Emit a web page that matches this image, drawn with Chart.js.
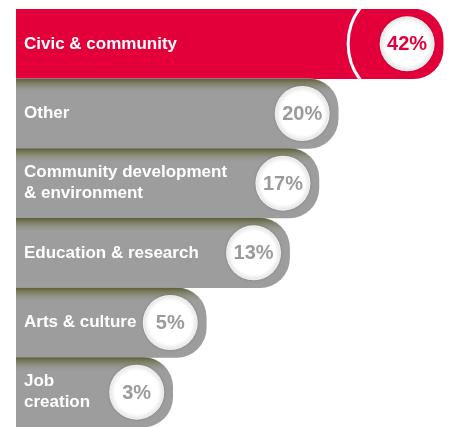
<!DOCTYPE html>
<html>
<head>
<meta charset="utf-8">
<script src="https://cdn.jsdelivr.net/npm/chart.js@4/dist/chart.umd.min.js"></script>
<style>
  body { margin: 0; background: #fff; }
  #wrap { width: 450px; height: 427px; }
</style>
</head>
<body>
<div id="wrap"><canvas id="myChart" width="450" height="427"></canvas></div>
<script>
const categories = [
  'Civic & community',
  'Other',
  ['Community development', '& environment'],
  'Education & research',
  'Arts & culture',
  ['Job', 'creation']
];
const shares = [42, 20, 17, 13, 5, 3];
const barColors = ['#e3003a', '#9d9d9d', '#9d9d9d', '#9d9d9d', '#9d9d9d', '#9d9d9d'];
const valueColors = ['#e3003a', '#9a9a9a', '#9a9a9a', '#9a9a9a', '#9a9a9a', '#9a9a9a'];

// the original bars are not linear in the share, a power scale fits them well
const EXP = 0.38;
class PowerScale extends Chart.LinearScale {
  getPixelForValue(value) {
    const t = Math.pow(Math.max(value, 0) / this.max, EXP);
    return this.getPixelForDecimal(t);
  }
  getValueForPixel(pixel) {
    return this.max * Math.pow(Math.max(this.getDecimalForPixel(pixel), 0), 1 / EXP);
  }
}
PowerScale.id = 'power';
PowerScale.defaults = Chart.LinearScale.defaults;
Chart.register(PowerScale);

const FONT = '"Liberation Sans", Arial, Helvetica, sans-serif';

const badges = {
  id: 'badges',
  afterDatasetsDraw(chart) {
    const ctx = chart.ctx;
    const meta = chart.getDatasetMeta(0);
    meta.data.forEach((bar, i) => {
      const h = bar.height;
      const top = bar.y - h / 2;
      const r = 30;
      const cx = bar.x - 36;
      const cy = bar.y;
      const cr = 27.5;

      ctx.save();
      ctx.beginPath();
      ctx.roundRect(bar.base, top, bar.x - bar.base, h, [0, r, r, 0]);
      ctx.clip();
      if (i > 0) {
        // shadow thrown by the bar above
        const g = ctx.createLinearGradient(0, top, 0, top + 15);
        g.addColorStop(0, 'rgba(82,86,40,0.9)');
        g.addColorStop(0.4, 'rgba(110,112,70,0.5)');
        g.addColorStop(1, 'rgba(157,157,157,0)');
        ctx.fillStyle = g;
        ctx.fillRect(bar.base, top, bar.x - bar.base, 15);
      } else {
        ctx.beginPath();
        ctx.arc(cx, cy, 59, 0, Math.PI * 2);
        ctx.strokeStyle = '#ffffff';
        ctx.lineWidth = 3;
        ctx.stroke();
      }
      ctx.restore();

      // white badge
      ctx.save();
      ctx.shadowColor = 'rgba(0,0,0,0.2)';
      ctx.shadowBlur = 3;
      const rg = ctx.createRadialGradient(cx, cy, 0, cx, cy, cr);
      rg.addColorStop(0, '#ffffff');
      rg.addColorStop(0.78, '#ffffff');
      rg.addColorStop(0.95, '#e9e9e9');
      rg.addColorStop(1, '#f6f6f6');
      ctx.fillStyle = rg;
      ctx.beginPath();
      ctx.arc(cx, cy, cr, 0, Math.PI * 2);
      ctx.fill();
      ctx.restore();

      ctx.save();
      ctx.fillStyle = valueColors[i];
      ctx.font = 'bold 20px ' + FONT;
      ctx.textAlign = 'center';
      ctx.textBaseline = 'middle';
      ctx.fillText(shares[i] + '%', cx, cy + 1);

      // category label
      ctx.fillStyle = '#ffffff';
      ctx.font = 'bold 17px ' + FONT;
      ctx.textAlign = 'left';
      const lines = [].concat(categories[i]);
      const lh = 21;
      lines.forEach((line, k) => {
        ctx.fillText(line, 24, cy + (k - (lines.length - 1) / 2) * lh);
      });
      ctx.restore();
    });
  }
};

new Chart(document.getElementById('myChart').getContext('2d'), {
  type: 'bar',
  data: {
    labels: categories,
    datasets: [{
      data: shares,
      backgroundColor: barColors,
      borderWidth: 0,
      borderSkipped: false,
      borderRadius: {topLeft: 0, bottomLeft: 0, topRight: 30, bottomRight: 30},
      barPercentage: 1,
      categoryPercentage: 1
    }]
  },
  options: {
    indexAxis: 'y',
    responsive: false,
    animation: false,
    layout: {padding: {left: 16, top: 9, right: 0, bottom: 0}},
    plugins: {legend: {display: false}, tooltip: {enabled: false}},
    scales: {
      x: {type: 'power', min: 0, max: 43.8, display: false},
      y: {display: false}
    }
  },
  plugins: [badges]
});
</script>
</body>
</html>
